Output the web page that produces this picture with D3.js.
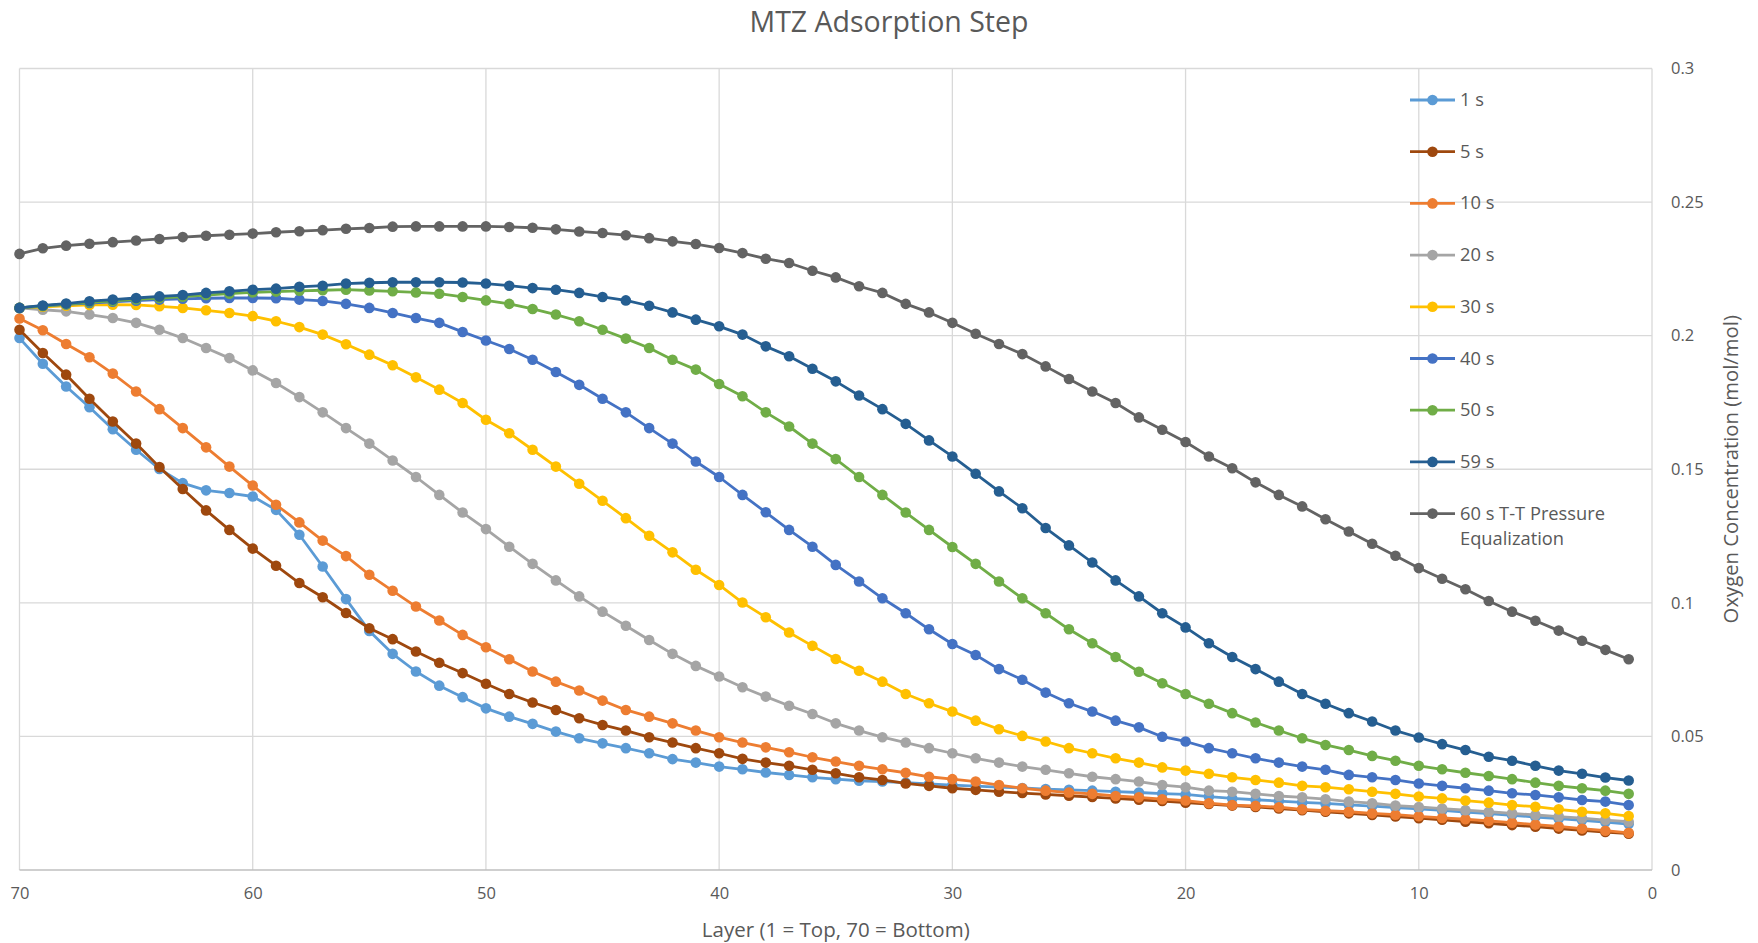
<!DOCTYPE html>
<html>
<head>
<meta charset="utf-8">
<script src="https://cdn.jsdelivr.net/npm/d3@7"></script>
<style>
  body { margin: 0; background: #fff; }
  text { font-family: "Open Sans", Lato, sans-serif; fill: #595959; }
</style>
</head>
<body>
<svg id="chart"></svg>
<script>
// layers 1..70
const layers = [
  1, 2, 3, 4, 5, 6, 7, 8, 9, 10, 11, 12, 13, 14, 15, 16, 17, 18, 19, 20,
  21, 22, 23, 24, 25, 26, 27, 28, 29, 30, 31, 32, 33, 34, 35, 36, 37, 38, 39, 40,
  41, 42, 43, 44, 45, 46, 47, 48, 49, 50, 51, 52, 53, 54, 55, 56, 57, 58, 59, 60,
  61, 62, 63, 64, 65, 66, 67, 68, 69, 70
];

const xTicks = [70, 60, 50, 40, 30, 20, 10, 0];
const yTicks = [0, 0.05, 0.1, 0.15, 0.2, 0.25, 0.3];

const names = ['1 s', '5 s', '10 s', '20 s', '30 s', '40 s', '50 s', '59 s', '60 s T-T Pressure Equalization'];
const colors = ['#5b9bd5', '#9e480e', '#ed7d31', '#a5a5a5', '#ffc000', '#4472c4', '#70ad47', '#255e91', '#636363'];

// values by layer, layer 1 first
const s1 = [
  0.0172, 0.0179, 0.0186, 0.0192, 0.0198, 0.0205, 0.0211, 0.0217, 0.0223, 0.0229,
  0.0234, 0.0239, 0.0244, 0.0249, 0.0253, 0.0258, 0.0263, 0.0268, 0.0275, 0.0283,
  0.0286, 0.0290, 0.0293, 0.0297, 0.0300, 0.0303, 0.0307, 0.0310, 0.0314, 0.0318,
  0.0322, 0.0327, 0.0331, 0.0334, 0.0340, 0.0347, 0.0356, 0.0365, 0.0377, 0.0387,
  0.0402, 0.0415, 0.0437, 0.0456, 0.0474, 0.0493, 0.0518, 0.0547, 0.0574, 0.0605,
  0.0647, 0.0690, 0.0743, 0.0809, 0.0895, 0.1014, 0.1136, 0.1255, 0.1348, 0.1398,
  0.1411, 0.1421, 0.1448, 0.1501, 0.1573, 0.1650, 0.1732, 0.1810, 0.1895, 0.1991
];
const s5 = [
  0.0136, 0.0142, 0.0148, 0.0155, 0.0162, 0.0168, 0.0175, 0.0181, 0.0188, 0.0194,
  0.0200, 0.0206, 0.0212, 0.0218, 0.0224, 0.0230, 0.0236, 0.0241, 0.0247, 0.0252,
  0.0258, 0.0263, 0.0268, 0.0273, 0.0278, 0.0283, 0.0288, 0.0293, 0.0300, 0.0306,
  0.0315, 0.0324, 0.0337, 0.0347, 0.0362, 0.0375, 0.0390, 0.0402, 0.0416, 0.0437,
  0.0456, 0.0477, 0.0497, 0.0522, 0.0543, 0.0568, 0.0599, 0.0627, 0.0659, 0.0697,
  0.0737, 0.0776, 0.0818, 0.0864, 0.0905, 0.0962, 0.1021, 0.1074, 0.1139, 0.1203,
  0.1273, 0.1346, 0.1426, 0.1508, 0.1596, 0.1679, 0.1764, 0.1854, 0.1935, 0.2022
];
const s10 = [
  0.0139, 0.0147, 0.0155, 0.0163, 0.0170, 0.0177, 0.0184, 0.0190, 0.0195, 0.0201,
  0.0207, 0.0212, 0.0218, 0.0222, 0.0227, 0.0235, 0.0240, 0.0243, 0.0250, 0.0260,
  0.0265, 0.0272, 0.0277, 0.0285, 0.0290, 0.0297, 0.0306, 0.0318, 0.0331, 0.0340,
  0.0349, 0.0364, 0.0377, 0.0390, 0.0406, 0.0422, 0.0441, 0.0459, 0.0477, 0.0497,
  0.0522, 0.0549, 0.0574, 0.0599, 0.0634, 0.0672, 0.0705, 0.0743, 0.0789, 0.0834,
  0.0880, 0.0934, 0.0986, 0.1045, 0.1105, 0.1175, 0.1233, 0.1301, 0.1367, 0.1439,
  0.1510, 0.1582, 0.1654, 0.1725, 0.1791, 0.1858, 0.1919, 0.1969, 0.2020, 0.2064
];
const s20 = [
  0.0181, 0.0187, 0.0194, 0.0200, 0.0206, 0.0212, 0.0218, 0.0224, 0.0230, 0.0236,
  0.0241, 0.0250, 0.0256, 0.0265, 0.0272, 0.0277, 0.0285, 0.0293, 0.0297, 0.0310,
  0.0318, 0.0331, 0.0340, 0.0349, 0.0362, 0.0375, 0.0387, 0.0402, 0.0418, 0.0437,
  0.0456, 0.0477, 0.0497, 0.0522, 0.0549, 0.0584, 0.0615, 0.0649, 0.0684, 0.0724,
  0.0764, 0.0809, 0.0861, 0.0914, 0.0967, 0.1024, 0.1084, 0.1146, 0.1210, 0.1276,
  0.1338, 0.1404, 0.1471, 0.1533, 0.1596, 0.1654, 0.1713, 0.1770, 0.1823, 0.1870,
  0.1916, 0.1954, 0.1991, 0.2022, 0.2048, 0.2066, 0.2079, 0.2091, 0.2097, 0.2104
];
const s30 = [
  0.0202, 0.0212, 0.0218, 0.0227, 0.0237, 0.0243, 0.0252, 0.0260, 0.0268, 0.0275,
  0.0285, 0.0293, 0.0302, 0.0310, 0.0315, 0.0327, 0.0337, 0.0347, 0.0360, 0.0372,
  0.0384, 0.0402, 0.0418, 0.0437, 0.0456, 0.0481, 0.0502, 0.0527, 0.0559, 0.0593,
  0.0624, 0.0659, 0.0705, 0.0746, 0.0790, 0.0839, 0.0889, 0.0946, 0.1001, 0.1067,
  0.1124, 0.1189, 0.1251, 0.1317, 0.1382, 0.1446, 0.1510, 0.1573, 0.1635, 0.1685,
  0.1748, 0.1798, 0.1844, 0.1889, 0.1929, 0.1968, 0.2004, 0.2032, 0.2054, 0.2073,
  0.2085, 0.2095, 0.2104, 0.2110, 0.2115, 0.2116, 0.2115, 0.2112, 0.2108, 0.2104
];
const s40 = [
  0.0243, 0.0256, 0.0262, 0.0272, 0.0281, 0.0287, 0.0297, 0.0306, 0.0315, 0.0324,
  0.0337, 0.0347, 0.0356, 0.0375, 0.0387, 0.0402, 0.0418, 0.0437, 0.0456, 0.0481,
  0.0499, 0.0534, 0.0559, 0.0593, 0.0624, 0.0664, 0.0712, 0.0752, 0.0805, 0.0846,
  0.0901, 0.0961, 0.1017, 0.1080, 0.1142, 0.1210, 0.1273, 0.1339, 0.1404, 0.1471,
  0.1529, 0.1596, 0.1654, 0.1713, 0.1764, 0.1816, 0.1864, 0.1910, 0.1950, 0.1982,
  0.2014, 0.2048, 0.2066, 0.2085, 0.2104, 0.2119, 0.2130, 0.2135, 0.2140, 0.2141,
  0.2141, 0.2140, 0.2138, 0.2135, 0.2131, 0.2127, 0.2122, 0.2117, 0.2111, 0.2104
];
const s50 = [
  0.0285, 0.0297, 0.0306, 0.0315, 0.0327, 0.0340, 0.0352, 0.0364, 0.0377, 0.0390,
  0.0409, 0.0427, 0.0449, 0.0468, 0.0493, 0.0522, 0.0552, 0.0587, 0.0622, 0.0659,
  0.0699, 0.0742, 0.0797, 0.0849, 0.0901, 0.0961, 0.1017, 0.1080, 0.1146, 0.1209,
  0.1273, 0.1338, 0.1404, 0.1471, 0.1538, 0.1596, 0.1660, 0.1713, 0.1773, 0.1819,
  0.1873, 0.1910, 0.1954, 0.1989, 0.2022, 0.2054, 0.2079, 0.2100, 0.2119, 0.2132,
  0.2145, 0.2157, 0.2162, 0.2166, 0.2169, 0.2172, 0.2170, 0.2168, 0.2165, 0.2162,
  0.2157, 0.2152, 0.2146, 0.2141, 0.2136, 0.2130, 0.2125, 0.2118, 0.2111, 0.2104
];
const s59 = [
  0.0335, 0.0346, 0.0360, 0.0372, 0.0390, 0.0409, 0.0424, 0.0449, 0.0471, 0.0496,
  0.0522, 0.0556, 0.0587, 0.0622, 0.0659, 0.0705, 0.0752, 0.0797, 0.0849, 0.0908,
  0.0961, 0.1024, 0.1084, 0.1151, 0.1215, 0.1280, 0.1354, 0.1417, 0.1483, 0.1548,
  0.1608, 0.1670, 0.1725, 0.1776, 0.1829, 0.1876, 0.1923, 0.1960, 0.2004, 0.2035,
  0.2060, 0.2087, 0.2112, 0.2132, 0.2145, 0.2160, 0.2172, 0.2178, 0.2187, 0.2195,
  0.2199, 0.2200, 0.2200, 0.2200, 0.2198, 0.2195, 0.2187, 0.2183, 0.2176, 0.2172,
  0.2166, 0.2160, 0.2152, 0.2147, 0.2141, 0.2135, 0.2129, 0.2120, 0.2113, 0.2104
];
const s60 = [
  0.0789, 0.0824, 0.0858, 0.0896, 0.0933, 0.0967, 0.1007, 0.1051, 0.1090, 0.1130,
  0.1176, 0.1221, 0.1267, 0.1313, 0.1361, 0.1404, 0.1451, 0.1504, 0.1548, 0.1602,
  0.1648, 0.1694, 0.1748, 0.1791, 0.1838, 0.1885, 0.1931, 0.1969, 0.2007, 0.2048,
  0.2087, 0.2119, 0.2160, 0.2185, 0.2218, 0.2243, 0.2272, 0.2288, 0.2309, 0.2328,
  0.2343, 0.2353, 0.2365, 0.2376, 0.2384, 0.2390, 0.2398, 0.2404, 0.2407, 0.2409,
  0.2409, 0.2409, 0.2409, 0.2408, 0.2403, 0.2400, 0.2395, 0.2391, 0.2387, 0.2382,
  0.2378, 0.2374, 0.2369, 0.2362, 0.2356, 0.2350, 0.2344, 0.2337, 0.2327, 0.2306
];

const seriesValues = [s1, s5, s10, s20, s30, s40, s50, s59, s60];

const width = 1758;
const height = 943;
const margin = { top: 68.5, right: 106, bottom: 73, left: 19.5 };

const svg = d3.select('#chart')
  .attr('width', width)
  .attr('height', height);

const scaleX = d3.scaleLinear()
  .domain([70, 0])
  .range([margin.left, width - margin.right]);

const scaleY = d3.scaleLinear()
  .domain([0, 0.3])
  .range([height - margin.bottom, margin.top]);

// grid
const groupGrid = svg.append('g').attr('class', 'grid');

groupGrid.selectAll('line.grid-x')
  .data(xTicks)
  .enter()
  .append('line')
  .attr('x1', d => scaleX(d))
  .attr('x2', d => scaleX(d))
  .attr('y1', scaleY(0.3))
  .attr('y2', scaleY(0))
  .attr('stroke', '#d9d9d9')
  .attr('stroke-width', 1.3);

groupGrid.selectAll('line.grid-y')
  .data(yTicks)
  .enter()
  .append('line')
  .attr('x1', scaleX(70))
  .attr('x2', scaleX(0))
  .attr('y1', d => scaleY(d))
  .attr('y2', d => scaleY(d))
  .attr('stroke', d => d === 0 ? '#bfbfbf' : '#d9d9d9')
  .attr('stroke-width', 1.3);

// axes labels
const axisX = d3.axisBottom(scaleX)
  .tickValues(xTicks)
  .tickSize(0)
  .tickPadding(17)
  .tickFormat(d3.format('d'));

const axisY = d3.axisRight(scaleY)
  .tickValues(yTicks)
  .tickSize(0)
  .tickPadding(19)
  .tickFormat(d => String(+d.toFixed(2)));

svg.append('g')
  .attr('transform', `translate(0, ${scaleY(0)})`)
  .call(axisX)
  .call(g => g.select('.domain').remove())
  .selectAll('text')
  .attr('font-size', 16.5)
  .attr('font-family', null);

svg.append('g')
  .attr('transform', `translate(${scaleX(0)}, 0)`)
  .call(axisY)
  .call(g => g.select('.domain').remove())
  .selectAll('text')
  .attr('font-size', 16.5)
  .attr('font-family', null);

// lines and markers
const line = d3.line()
  .x((d, i) => scaleX(layers[i]))
  .y(d => scaleY(d));

seriesValues.forEach((values, k) => {
  const g = svg.append('g').attr('class', `series-${k}`);
  g.append('path')
    .attr('d', line(values))
    .attr('fill', 'none')
    .attr('stroke', colors[k])
    .attr('stroke-width', 2.8)
    .attr('stroke-linejoin', 'round');
  g.selectAll('circle')
    .data(values)
    .enter()
    .append('circle')
    .attr('cx', (d, i) => scaleX(layers[i]))
    .attr('cy', d => scaleY(d))
    .attr('r', 5.3)
    .attr('fill', colors[k]);
});

// title
svg.append('text')
  .attr('x', 889)
  .attr('y', 32)
  .attr('text-anchor', 'middle')
  .attr('font-size', 28.5)
  .text('MTZ Adsorption Step');

svg.append('text')
  .attr('x', (scaleX(70) + scaleX(0)) / 2)
  .attr('y', 937)
  .attr('text-anchor', 'middle')
  .attr('font-size', 20.5)
  .text('Layer (1 = Top, 70 = Bottom)');

svg.append('text')
  .attr('transform', `translate(1738, ${(scaleY(0) + scaleY(0.3)) / 2}) rotate(-90)`)
  .attr('text-anchor', 'middle')
  .attr('font-size', 20.3)
  .text('Oxygen Concentration (mol/mol)');

// legend
const legend = svg.append('g').attr('transform', 'translate(1410, 100)');
names.forEach((name, k) => {
  const row = legend.append('g').attr('transform', `translate(0, ${k * 51.7})`);
  row.append('line')
    .attr('x1', 0).attr('x2', 45)
    .attr('stroke', colors[k])
    .attr('stroke-width', 2.8);
  row.append('circle')
    .attr('cx', 22.5)
    .attr('r', 5.3)
    .attr('fill', colors[k]);
  const words = k === names.length - 1 ? ['60 s T-T Pressure', 'Equalization'] : [name];
  words.forEach((w, j) => {
    row.append('text')
      .attr('x', 50)
      .attr('y', j * 25 + 6)
      .attr('font-size', 18.3)
      .text(w);
  });
});
</script>
</body>
</html>
